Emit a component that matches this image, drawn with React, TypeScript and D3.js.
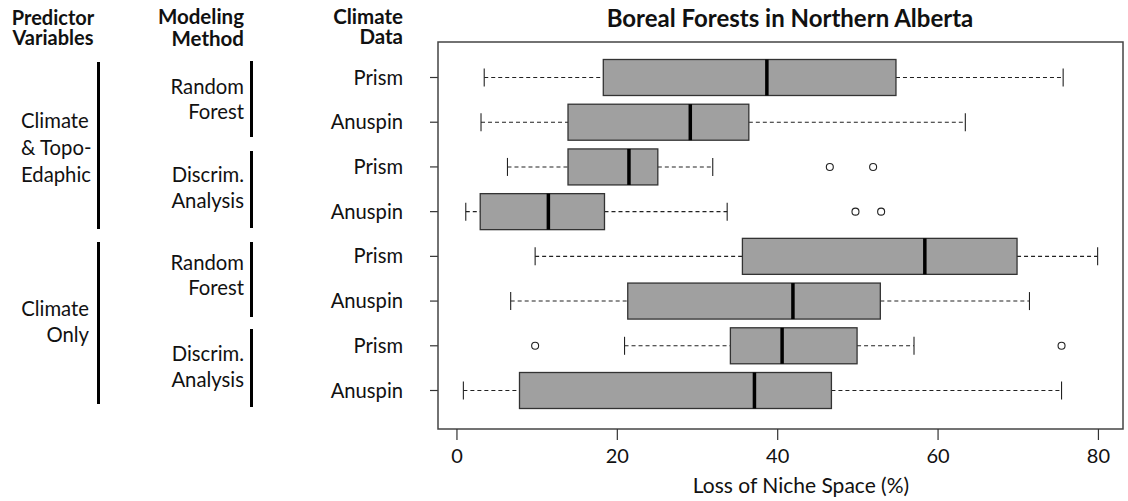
import React from "react";
import * as d3 from "d3";

const rowLabels = ["Prism", "Anuspin", "Prism", "Anuspin", "Prism", "Anuspin", "Prism", "Anuspin"];
const whiskerLow = [3.4, 3.0, 6.3, 1.1, 9.75, 6.7, 20.9, 0.8];
const q1 = [18.25, 13.85, 13.85, 2.9, 35.6, 21.3, 34.1, 7.8];
const median = [38.65, 29.1, 21.45, 11.4, 58.35, 41.9, 40.55, 37.1];
const q3 = [54.75, 36.4, 25.05, 18.4, 69.85, 52.8, 49.9, 46.7];
const whiskerHigh = [75.6, 63.4, 31.9, 33.7, 79.9, 71.4, 57.0, 75.4];
const outliers: number[][] = [[], [], [46.5, 51.9], [49.7, 52.9], [], [], [9.75, 75.4], []];
const xTicks = [0, 20, 40, 60, 80];

const methodLabels = [
  ["Random", "Forest"],
  ["Discrim.", "Analysis"],
  ["Random", "Forest"],
  ["Discrim.", "Analysis"],
];
const predictorLabels = [
  ["Climate", "& Topo-", "Edaphic"],
  ["Climate", "Only"],
];

const title = "Boreal Forests in Northern Alberta";
const xTitle = "Loss of Niche Space (%)";

const FONT = "Lato, 'Open Sans', sans-serif";

export default function App() {
  const frame = { left: 438, right: 1123, top: 42, bottom: 429 };
  const all = [...whiskerLow, ...whiskerHigh, ...outliers.flat()];
  const lo = d3.min(all) as number;
  const hi = d3.max(all) as number;
  const pad = (hi - lo) * 0.04;
  const x = d3.scaleLinear().domain([lo - pad, hi + pad]).range([frame.left, frame.right]);
  const y = d3.scaleLinear().domain([1, 8]).range([77.5, 390.5]);
  const half = 18;

  const methodBars = [
    [61, 137],
    [151, 228],
    [242, 317],
    [329, 407],
  ];
  const methodBase = [
    [94, 119],
    [182, 208],
    [270, 295],
    [361, 387],
  ];
  const predBars = [
    [62, 229],
    [242, 404],
  ];

  return (
    <svg
      width={1128}
      height={501}
      style={{ position: "absolute", left: 0, top: 0, background: "#fff", display: "block" }}
      fontFamily={FONT}
    >
      <rect x={0} y={0} width={1128} height={501} fill="#fff" />
      {/* Headers */}
      <g fontWeight="bold" fill="#111">
        <text x={53} y={25} textAnchor="middle" fontSize={20}>Predictor</text>
        <text x={53} y={45} textAnchor="middle" fontSize={20}>Variables</text>
        <text x={244} y={24} textAnchor="end" fontSize={20.5}>Modeling</text>
        <text x={244} y={46} textAnchor="end" fontSize={20.5}>Method</text>
        <text x={403} y={24} textAnchor="end" fontSize={20.5}>Climate</text>
        <text x={403} y={44} textAnchor="end" fontSize={20.5}>Data</text>
      </g>
      <text x={790} y={27} textAnchor="middle" fontWeight="bold" fontSize={24} fill="#111">
        {title}
      </text>

      {/* Predictor groups */}
      <g fontSize={20.3} fill="#111">
        <text x={21} y={128}>{predictorLabels[0][0]}</text>
        <text x={21} y={155}>{predictorLabels[0][1]}</text>
        <text x={21} y={182}>{predictorLabels[0][2]}</text>
        <text x={89} y={316} textAnchor="end">{predictorLabels[1][0]}</text>
        <text x={89} y={342} textAnchor="end">{predictorLabels[1][1]}</text>
      </g>
      {predBars.map((b, i) => (
        <line key={"pb" + i} x1={98.5} x2={98.5} y1={b[0]} y2={b[1]} stroke="#000" strokeWidth={3} />
      ))}

      {/* Method groups */}
      <g fontSize={20.3} fill="#111">
        {methodLabels.map((m, i) => (
          <g key={"ml" + i}>
            <text x={244} y={methodBase[i][0]} textAnchor="end">{m[0]}</text>
            <text x={244} y={methodBase[i][1]} textAnchor="end">{m[1]}</text>
          </g>
        ))}
      </g>
      {methodBars.map((b, i) => (
        <line key={"mb" + i} x1={251.5} x2={251.5} y1={b[0]} y2={b[1]} stroke="#000" strokeWidth={3} />
      ))}

      {/* Row labels and y ticks */}
      <g fontSize={20.2} fill="#111">
        {rowLabels.map((r, i) => (
          <text key={"rl" + i} x={403} y={y(i + 1) + 7} textAnchor="end">{r}</text>
        ))}
      </g>
      {rowLabels.map((_, i) => (
        <line key={"yt" + i} x1={430} x2={frame.left} y1={y(i + 1)} y2={y(i + 1)} stroke="#333" strokeWidth={1.2} />
      ))}

      {/* Boxplots */}
      {rowLabels.map((_, i) => {
        const yc = y(i + 1);
        return (
          <g key={"bx" + i}>
            <line x1={x(whiskerLow[i])} x2={x(q1[i])} y1={yc} y2={yc} stroke="#222" strokeWidth={1.1} strokeDasharray="4,3" />
            <line x1={x(q3[i])} x2={x(whiskerHigh[i])} y1={yc} y2={yc} stroke="#222" strokeWidth={1.1} strokeDasharray="4,3" />
            <line x1={x(whiskerLow[i])} x2={x(whiskerLow[i])} y1={yc - half / 2} y2={yc + half / 2} stroke="#222" strokeWidth={1.1} />
            <line x1={x(whiskerHigh[i])} x2={x(whiskerHigh[i])} y1={yc - half / 2} y2={yc + half / 2} stroke="#222" strokeWidth={1.1} />
            <rect
              x={x(q1[i])}
              y={yc - half}
              width={x(q3[i]) - x(q1[i])}
              height={half * 2}
              fill="#a0a0a0"
              stroke="#333"
              strokeWidth={1.3}
            />
            <line x1={x(median[i])} x2={x(median[i])} y1={yc - half} y2={yc + half} stroke="#000" strokeWidth={3.5} />
            {outliers[i].map((o, j) => (
              <circle key={j} cx={x(o)} cy={yc} r={3.5} fill="#fff" stroke="#222" strokeWidth={1.1} />
            ))}
          </g>
        );
      })}

      {/* Frame */}
      <rect
        x={frame.left}
        y={frame.top}
        width={frame.right - frame.left}
        height={frame.bottom - frame.top}
        fill="none"
        stroke="#444"
        strokeWidth={1.5}
      />

      {/* X axis */}
      {xTicks.map((t) => (
        <g key={"xt" + t}>
          <line x1={x(t)} x2={x(t)} y1={frame.bottom} y2={440} stroke="#333" strokeWidth={1.2} />
          <text x={x(t)} y={463} textAnchor="middle" fontSize={20} fill="#111">{t}</text>
        </g>
      ))}
      <text x={801} y={493} textAnchor="middle" fontSize={21} fill="#111">{xTitle}</text>
    </svg>
  );
}
